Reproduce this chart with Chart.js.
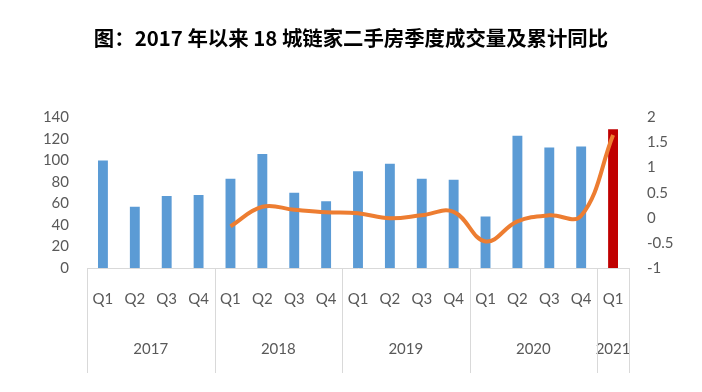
<!DOCTYPE html>
<html lang="zh">
<head>
    <meta charset="UTF-8">
    <title>18城链家二手房季度成交量</title>
    <style>
        body {
            margin: 0;
            padding: 0;
            background: #fff;
        }
        #wrap {
            width: 702px;
            height: 392px;
        }
    </style>
    <script src="https://cdn.jsdelivr.net/npm/chart.js"></script>
</head>
<body>
    <div id="wrap">
        <canvas id="chart" width="702" height="392"></canvas>
    </div>

    <script>
        // Data
        const quarters = ['Q1', 'Q2', 'Q3', 'Q4', 'Q1', 'Q2', 'Q3', 'Q4', 'Q1', 'Q2', 'Q3', 'Q4', 'Q1', 'Q2', 'Q3', 'Q4', 'Q1'];
        const years = ['2017', '2018', '2019', '2020', '2021'];
        const yearQuarterCounts = [4, 4, 4, 4, 1];
        const volume = [100, 57, 67, 68, 83, 106, 70, 62, 90, 97, 83, 82, 48, 123, 112, 113, 129];
        const yoy = [null, null, null, null, -0.17, 0.22, 0.16, 0.11, 0.09, -0.01, 0.05, 0.12, -0.47, -0.07, 0.05, 0.04, 1.65];

        const textColor = '#595959';
        const tickFont = { family: 'Lato, "Noto Sans", sans-serif', size: 15 };

        const barColors = volume.map((v, i) => i === volume.length - 1 ? '#C00000' : '#5B9BD5');

        // draws the year row and the group separators under the quarter labels
        const yearGroups = {
            id: 'yearGroups',
            afterDraw(chart) {
                const ctx = chart.ctx;
                const x = chart.scales.x;
                const bottom = chart.chartArea.bottom;
                const step = (x.right - x.left) / quarters.length;
                ctx.save();
                ctx.strokeStyle = '#D9D9D9';
                ctx.lineWidth = 1;
                ctx.fillStyle = textColor;
                ctx.font = tickFont.size + 'px ' + tickFont.family;
                ctx.textAlign = 'center';
                ctx.textBaseline = 'middle';
                let start = 0;
                const edges = [x.left];
                years.forEach((yr, i) => {
                    const n = yearQuarterCounts[i];
                    const left = x.getPixelForValue(start) - step / 2;
                    const right = x.getPixelForValue(start + n - 1) + step / 2;
                    edges.push(right);
                    ctx.fillText(yr, (left + right) / 2, bottom + 81);
                    start += n;
                });
                edges.forEach(px => {
                    const xx = Math.round(px) + 0.5;
                    ctx.beginPath();
                    ctx.moveTo(xx, bottom);
                    ctx.lineTo(xx, bottom + 105);
                    ctx.stroke();
                });
                ctx.restore();
            }
        };

        new Chart(document.getElementById('chart'), {
            data: {
                labels: quarters,
                datasets: [
                    {
                        type: 'line',
                        label: '累计同比',
                        data: yoy,
                        yAxisID: 'y1',
                        borderColor: '#ED7D31',
                        borderWidth: 4,
                        pointRadius: 0,
                        tension: 0.4,
                        fill: false,
                        order: 0
                    },
                    {
                        type: 'bar',
                        label: '成交量',
                        data: volume,
                        yAxisID: 'y',
                        backgroundColor: barColors,
                        barPercentage: 0.31,
                        categoryPercentage: 1,
                        order: 1
                    }
                ]
            },
            options: {
                responsive: false,
                animation: false,
                layout: { padding: { left: 0, right: 0, top: 0, bottom: 0 } },
                plugins: {
                    legend: { display: false },
                    tooltip: { enabled: false },
                    title: {
                        display: true,
                        text: '图：2017 年以来 18 城链家二手房季度成交量及累计同比',
                        color: '#000',
                        font: { family: '"Noto Sans CJK SC", sans-serif', size: 20.4, weight: 'bold' },
                        padding: { top: 26, bottom: 67 }
                    }
                },
                scales: {
                    x: {
                        offset: true,
                        grid: { display: false, drawTicks: false },
                        border: { display: true, color: '#D9D9D9', width: 1 },
                        ticks: { color: textColor, font: tickFont, padding: 22, maxRotation: 0, autoSkip: false },
                        afterFit(scale) { scale.height = 124; }
                    },
                    y: {
                        position: 'left',
                        min: 0,
                        max: 140,
                        grid: { display: false, drawTicks: false },
                        border: { display: false },
                        ticks: { stepSize: 20, color: textColor, font: tickFont, padding: 18 },
                        afterFit(scale) { scale.width = 87; }
                    },
                    y1: {
                        position: 'right',
                        min: -1,
                        max: 2,
                        grid: { display: false, drawTicks: false },
                        border: { display: false },
                        ticks: {
                            stepSize: 0.5,
                            color: textColor,
                            font: tickFont,
                            padding: 18,
                            callback: v => String(v)
                        },
                        afterFit(scale) { scale.width = 73; }
                    }
                }
            },
            plugins: [yearGroups]
        });
    </script>
</body>
</html>
